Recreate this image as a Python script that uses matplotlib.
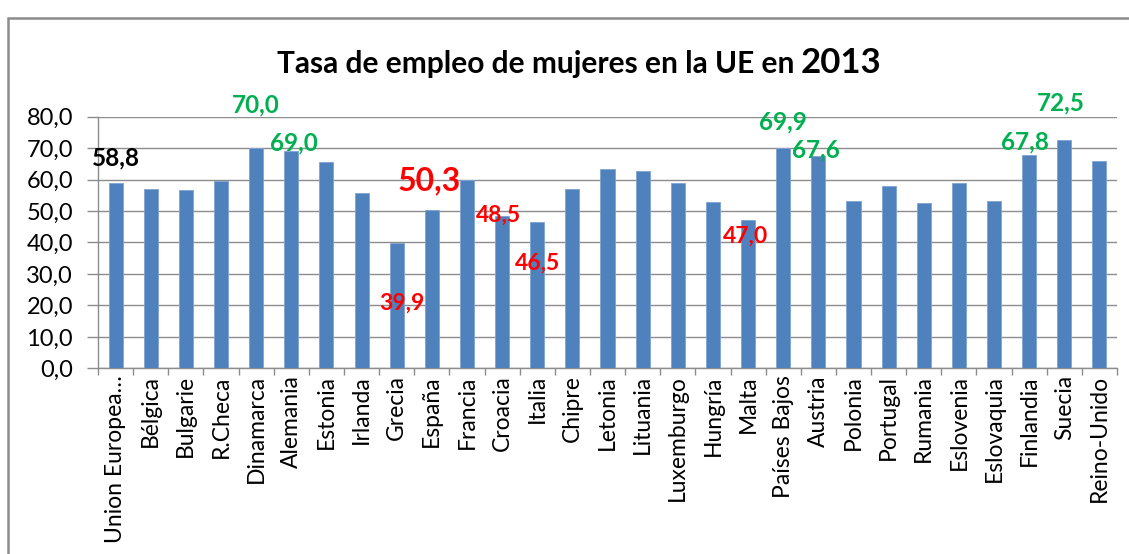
import matplotlib.pyplot as plt
from matplotlib.patches import Rectangle
from matplotlib.ticker import FuncFormatter, MultipleLocator

plt.rcParams['font.family'] = ['Lato', 'DejaVu Sans']

# datos: tasa de empleo de mujeres 2013
paises = ['Union Europea…', 'Bélgica', 'Bulgarie', 'R.Checa', 'Dinamarca', 'Alemania',
          'Estonia', 'Irlanda', 'Grecia', 'España', 'Francia', 'Croacia', 'Italia',
          'Chipre', 'Letonia', 'Lituania', 'Luxemburgo', 'Hungría', 'Malta',
          'Países Bajos', 'Austria', 'Polonia', 'Portugal', 'Rumania', 'Eslovenia',
          'Eslovaquia', 'Finlandia', 'Suecia', 'Reino-Unido']
tasa = [58.8, 56.9, 56.6, 59.4, 70.0, 69.0, 65.5, 55.7, 39.9, 50.3, 60.0, 48.5, 46.5,
        57.0, 63.4, 62.6, 59.0, 52.9, 47.0, 69.9, 67.6, 53.3, 57.8, 52.5, 59.0,
        53.3, 67.8, 72.5, 65.9]

# etiquetas destacadas: pais, color, tamaño, posicion (x offset, y)
etiquetas = [
    ('Union Europea…', 'black', 17.5, 0.0, 66.8),
    ('Dinamarca', '#00B050', 17.5, 0.0, 83.7),
    ('Alemania', '#00B050', 17.5, 0.08, 71.5),
    ('Grecia', '#FF0000', 16.5, 0.16, 20.8),
    ('España', '#FF0000', 23, -0.07, 59.7),
    ('Croacia', '#FF0000', 16.5, -0.1, 48.7),
    ('Italia', '#FF0000', 16.5, 0.0, 33.4),
    ('Malta', '#FF0000', 16.5, -0.07, 41.9),
    ('Países Bajos', '#00B050', 17.5, 0.0, 78.4),
    ('Austria', '#00B050', 17.5, -0.06, 69.5),
    ('Finlandia', '#00B050', 17.5, -0.13, 72.0),
    ('Suecia', '#00B050', 17.5, -0.1, 84.3),
]

fig = plt.figure(figsize=(11.29, 5.54), dpi=100)
ax = fig.add_axes([0.0868, 0.3352, 0.9026, 0.4542])

x = list(range(len(paises)))
ax.bar(x, tasa, width=0.4, color='#4F81BD', edgecolor='#7FA3D3', linewidth=0.6, zorder=3)

ax.set_xlim(-0.5, len(paises) - 0.5)
ax.set_ylim(0, 80)
ax.yaxis.set_major_locator(MultipleLocator(10))
ax.yaxis.set_major_formatter(FuncFormatter(lambda v, p: f'{v:.1f}'.replace('.', ',')))
ax.grid(axis='y', color='#8c8c8c', linewidth=1.0, zorder=0)

ax.set_xticks(x)
ax.set_xticklabels(paises, rotation=90, fontsize=16.5, color='black')
ax.set_xticks([i - 0.5 for i in range(len(paises) + 1)], minor=True)
ax.tick_params(axis='x', which='major', length=0, pad=5)
ax.tick_params(axis='x', which='minor', length=5, color='#8c8c8c', width=1)
ax.tick_params(axis='y', length=8, color='#8c8c8c', width=1, labelsize=17, pad=10)

for side in ['top', 'right']:
    ax.spines[side].set_visible(False)
for side in ['left', 'bottom']:
    ax.spines[side].set_color('#8c8c8c')
    ax.spines[side].set_linewidth(1.0)

for pais, col, fs, dx, ly in etiquetas:
    i = paises.index(pais)
    ax.text(i + dx, ly, f'{tasa[i]:.1f}'.replace('.', ','), color=col, fontsize=fs,
            fontweight='bold', ha='center', va='center', zorder=5, clip_on=False)

# titulo en dos partes
fig.text(0.704, 0.868, 'Tasa de empleo de mujeres en la UE en', ha='right', va='baseline',
         fontsize=21.5, fontweight='bold')
fig.text(0.709, 0.868, '2013', ha='left', va='baseline', fontsize=25, fontweight='bold')

# marco del grafico
fig.patches.append(Rectangle((8 / 1129, -0.2), 1.1, 0.2 + (554 - 18) / 554,
                             transform=fig.transFigure, fill=False,
                             edgecolor='#8c8c8c', linewidth=1.8))

fig.savefig('out.png', dpi=100)
